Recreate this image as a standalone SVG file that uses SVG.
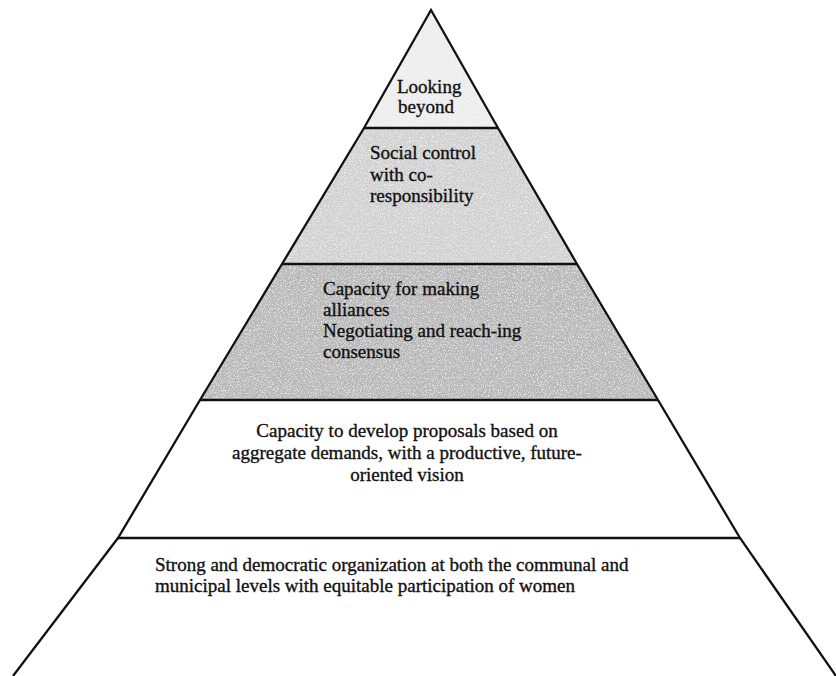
<svg xmlns="http://www.w3.org/2000/svg" width="836" height="676" viewBox="0 0 836 676">
  <style>
    .lbl { font-family: "Liberation Serif", "Times New Roman", serif; font-size: 19px; fill: #111; stroke: #111; stroke-width: 0.35; }
    .mid { text-anchor: middle; }
    .edge { fill: none; stroke: #111; stroke-width: 2.3; stroke-linejoin: miter; }
    .tier { stroke: #111; stroke-width: 2.7; }
  </style>
  <defs>
    <!-- light speckle for the shaded tiers -->
    <filter id="grain" x="0" y="0" width="100%" height="100%">
      <feTurbulence type="fractalNoise" baseFrequency="0.75" numOctaves="2" seed="7" result="n"/>
      <feColorMatrix in="n" type="matrix" values="0 0 0 0 1  0 0 0 0 1  0 0 0 0 1  2.4 0 0 0 -1.15" result="speck"/>
      <feComposite in="speck" in2="SourceGraphic" operator="in" result="clipped"/>
      <feMerge>
        <feMergeNode in="SourceGraphic"/>
        <feMergeNode in="clipped"/>
      </feMerge>
    </filter>
  </defs>

  <rect width="836" height="676" fill="#ffffff"/>

  <!-- tiers, top to bottom -->
  <g id="tier-looking-beyond">
    <polygon points="431,10 498,128 364,128" fill="#ececec" filter="url(#grain)"/>
    <text class="lbl" x="397" y="93">Looking</text>
    <text class="lbl" x="398" y="113">beyond</text>
  </g>

  <g id="tier-social-control">
    <polygon points="364,128 498,128 577,264 282,264" fill="#d0d0d0" filter="url(#grain)"/>
    <text class="lbl" x="370" y="159">Social control</text>
    <text class="lbl" x="370" y="180.5">with co-</text>
    <text class="lbl" x="370" y="202">responsibility</text>
  </g>

  <g id="tier-alliances">
    <polygon points="282,264 577,264 658,400 200,400" fill="#b7b7b7" filter="url(#grain)"/>
    <text class="lbl" x="323" y="294.5">Capacity for making</text>
    <text class="lbl" x="323" y="316">alliances</text>
    <text class="lbl" x="323" y="337">Negotiating and reach-ing</text>
    <text class="lbl" x="323" y="358">consensus</text>
  </g>

  <g id="tier-proposals">
    <polygon points="200,400 658,400 740,538 118,538" fill="#ffffff"/>
    <text class="lbl mid" x="407" y="437">Capacity to develop proposals based on</text>
    <text class="lbl mid" x="407" y="459">aggregate demands, with a productive, future-</text>
    <text class="lbl mid" x="407" y="481">oriented vision</text>
  </g>

  <g id="tier-organization">
    <polygon points="118,538 740,538 836,676 13,676" fill="#ffffff"/>
    <text class="lbl" x="155" y="571">Strong and democratic organization at both the communal and</text>
    <text class="lbl" x="155" y="592">municipal levels with equitable participation of women</text>
  </g>

  <!-- outline and tier dividers -->
  <g id="outline">
    <polyline class="edge" points="13,676 118,538 200,400 282,264 364,128 431,10 498,128 577,264 658,400 740,538 836,676"/>
    <line class="tier" x1="364" y1="128" x2="498" y2="128"/>
    <line class="tier" x1="282" y1="264" x2="577" y2="264"/>
    <line class="tier" x1="200" y1="400" x2="658" y2="400"/>
    <line class="tier" x1="118" y1="538" x2="740" y2="538"/>
  </g>
</svg>
